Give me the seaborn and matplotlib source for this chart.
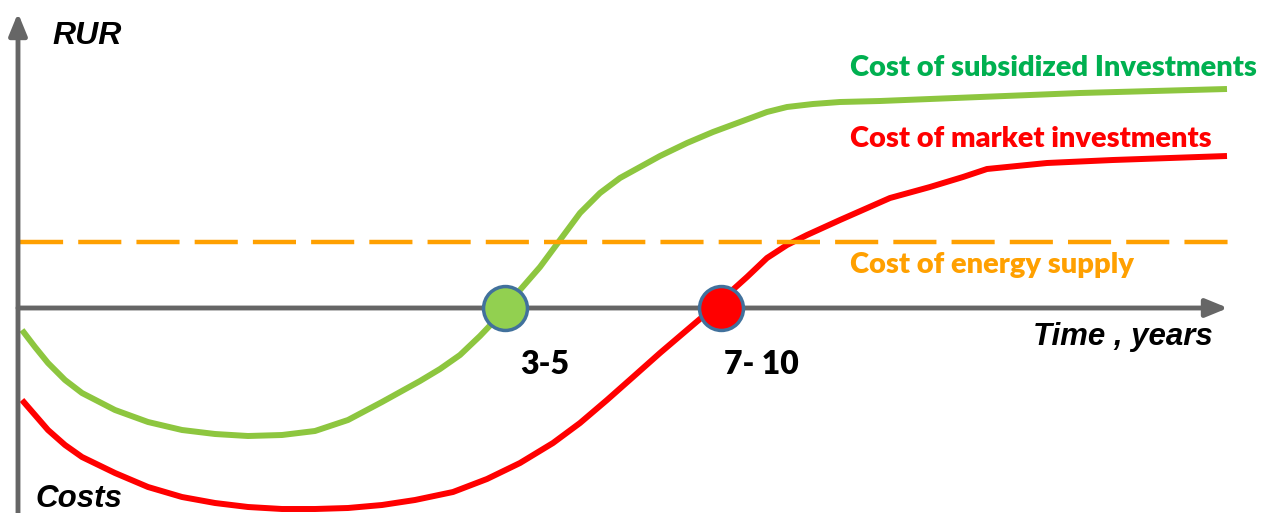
import numpy as np
import pandas as pd
import matplotlib
matplotlib.use("Agg")
import matplotlib.pyplot as plt
import seaborn as sns

# schematic curves (x = time, y = cost, origin at axis crossing)
green_x = [4, 17, 30, 47, 64, 97, 130, 164, 197, 230, 264, 297, 330, 364, 402, 422, 442, 462, 482,
           502, 522, 542, 562, 582, 602, 622, 642, 669, 695, 722, 749, 769, 795, 822, 862, 962,
           1062, 1209]
green_y = [-22, -39, -55, -72, -85, -102, -114, -122, -126, -128, -127, -123, -112, -94, -73, -61,
           -47, -28, -7, 18, 41, 68, 95, 115, 130, 141, 152, 165, 176, 186, 196, 201, 204, 206,
           207, 211, 215, 219]

red_x = [4, 17, 30, 47, 64, 97, 130, 164, 197, 230, 264, 297, 330, 364, 397, 435, 469, 502, 535,
         562, 589, 615, 642, 669, 689, 709, 729, 749, 769, 789, 822, 872, 912, 945, 969, 1029,
         1095, 1209]
red_y = [-92, -107, -122, -137, -149, -165, -179, -189, -195, -199, -201, -201, -200, -197, -192,
         -184, -171, -155, -135, -115, -92, -69, -45, -22, -5, 13, 31, 50, 63, 73, 88, 110, 121,
         131, 139, 145, 148, 152]

energy_x = [2, 1210]
energy_y = [66, 66]

# break-even points on the time axis
points_x = [487, 703]
points_lbl = ["3-5", "7- 10"]
points_col = ["#92D050", "#FF0000"]

GREEN_LINE = "#8DC63F"
GREEN_TXT = "#00B050"
RED = "#FF0000"
ORANGE = "#FFA000"
AXIS = "#666666"

sns.set_theme(style="white")
plt.rcParams["font.family"] = ["Liberation Sans", "DejaVu Sans"]
plt.rcParams["text.color"] = "black"

fig = plt.figure(figsize=(12.63, 5.13), dpi=100)
ax = fig.add_axes([0, 0, 1, 1])
ax.set_xlim(-18, 1245)
ax.set_ylim(-205, 308)
ax.axis("off")

df_g = pd.DataFrame({"t": green_x, "c": green_y})
df_r = pd.DataFrame({"t": red_x, "c": red_y})
sns.lineplot(data=df_g, x="t", y="c", color=GREEN_LINE, lw=4.3, sort=False, estimator=None,
             solid_joinstyle="round", solid_capstyle="butt", ax=ax)
sns.lineplot(data=df_r, x="t", y="c", color=RED, lw=4.3, sort=False, estimator=None,
             solid_joinstyle="round", solid_capstyle="butt", ax=ax)
ax.plot(energy_x, energy_y, color=ORANGE, lw=3.2, dashes=(9.7, 3.4))

# axes arrows
arrow = dict(arrowstyle="-|>,head_width=0.45,head_length=1.1", color=AXIS, lw=3.5,
             shrinkA=0, shrinkB=0)
ax.annotate("", xy=(0, 295), xytext=(0, -210), arrowprops=arrow)
ax.annotate("", xy=(1210, 0), xytext=(0, 0), arrowprops=arrow)

lab_font = ["Lato", "DejaVu Sans"]
for x, lbl, col in zip(points_x, points_lbl, points_col):
    ax.scatter([x], [0], s=1000, color=col, edgecolor="#41719C", linewidth=2.5, zorder=5)
    ax.text(x + 40, -56, lbl, ha="center", va="center", fontsize=23, fontweight="heavy",
            color="black", family=lab_font)

ax.text(34, 272, "RUR", fontsize=23, fontweight="bold", style="italic", va="center")
ax.text(17, -191, "Costs", fontsize=22.5, fontweight="bold", style="italic", va="center")
ax.text(1195, -29, "Time , years", fontsize=22.5, fontweight="bold", style="italic",
        ha="right", va="center")

ax.text(832, 240, "Cost of subsidized Investments", fontsize=21.0, fontweight="heavy",
        color=GREEN_TXT, va="center", family=lab_font)
ax.text(832, 169, "Cost of market investments", fontsize=20.9, fontweight="heavy",
        color=RED, va="center", family=lab_font)
ax.text(832, 43, "Cost of energy supply", fontsize=21.0, fontweight="heavy",
        color=ORANGE, va="center", family=lab_font)

fig.savefig("out.png", dpi=100, facecolor="white")
